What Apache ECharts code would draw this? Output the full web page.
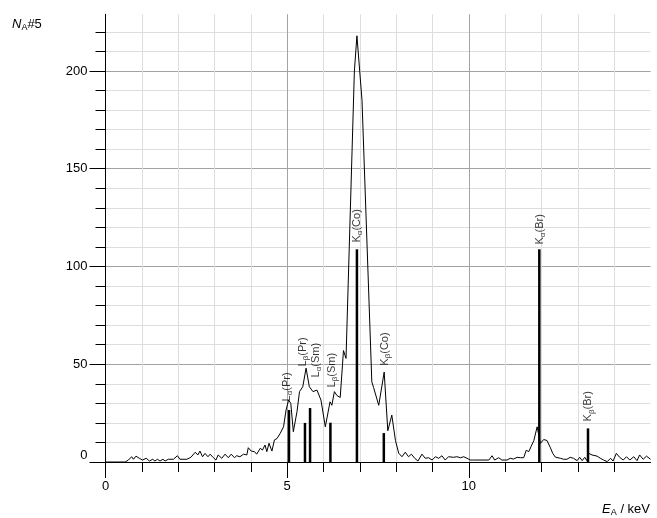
<!DOCTYPE html>
<html><head><meta charset="utf-8">
<script src="https://cdn.jsdelivr.net/npm/echarts@6/dist/echarts.min.js"></script>
<style>html,body{margin:0;padding:0;background:#fff}#c{width:657px;height:518px}</style>
</head><body><div id="c"></div>
<script>
// Spectrum readings (energy in keV, counts)
const energy = [0, 0.54, 0.63, 0.72, 0.77, 0.84, 0.93, 1.02, 1.12, 1.21, 1.3, 1.36, 1.43, 1.5, 1.58, 1.64, 1.73, 1.87, 1.98, 2.05, 2.24, 2.35, 2.47, 2.54, 2.6, 2.67, 2.74, 2.82, 2.88, 2.97, 3.04, 3.1, 3.2, 3.29, 3.38, 3.46, 3.55, 3.61, 3.7, 3.8, 3.89, 3.93, 4.01, 4.1, 4.16, 4.26, 4.32, 4.39, 4.44, 4.5, 4.58, 4.65, 4.72, 4.81, 4.9, 4.97, 5.04, 5.1, 5.17, 5.27, 5.34, 5.43, 5.52, 5.61, 5.71, 5.82, 5.93, 6.05, 6.09, 6.18, 6.23, 6.3, 6.37, 6.46, 6.55, 6.62, 6.85, 6.92, 7.06, 7.33, 7.38, 7.42, 7.52, 7.56, 7.67, 7.77, 7.88, 7.98, 8.07, 8.16, 8.25, 8.34, 8.42, 8.51, 8.6, 8.71, 8.8, 8.89, 8.99, 9.08, 9.17, 9.26, 9.35, 9.44, 9.49, 9.58, 9.67, 9.77, 9.86, 9.95, 10.04, 10.13, 10.55, 10.64, 10.71, 10.82, 10.91, 11.05, 11.14, 11.23, 11.33, 11.42, 11.51, 11.58, 11.65, 11.71, 11.79, 11.88, 11.97, 12.06, 12.15, 12.24, 12.31, 12.38, 12.52, 12.61, 12.7, 12.79, 12.88, 12.98, 13.05, 13.12, 13.19, 13.25, 13.3, 13.39, 13.53, 13.62, 13.71, 13.81, 13.9, 13.97, 14.06, 14.15, 14.25, 14.34, 14.43, 14.54, 14.63, 14.7, 14.8, 14.89, 15];
const counts = [0, 0, 1, 2.7, 1.4, 3, 1.9, 1, 1.9, 0.5, 1.4, 0.5, 1.4, 0.5, 1.4, 0.5, 1.4, 1.4, 3.2, 1.4, 1.4, 2.4, 5, 3.6, 5.6, 2.7, 4.4, 2.7, 4, 2.2, 1, 3.6, 1.9, 4, 2.2, 4, 2.2, 3.2, 2.7, 4, 3.6, 7.3, 5.6, 5.3, 4, 7, 6.1, 8.7, 5.3, 9.6, 5.6, 11.3, 12, 14.7, 18, 26.6, 31.7, 30, 15.5, 25.7, 36, 38.5, 48, 38.5, 36, 36.8, 31.7, 18, 17.7, 30.8, 29, 36, 34, 33, 57, 53, 200, 218, 185, 41, 38, 39, 29, 28, 46, 16, 24, 11, 4.5, 2.7, 5, 2.7, 4, 1.9, 0.5, 4, 1.9, 2.2, 1, 2.7, 1.9, 3.2, 1, 2.7, 3.6, 2.4, 2.7, 2.2, 2.7, 1.9, 1, 1, 1, 3.2, 1, 2.2, 1, 1, 1.9, 1.5, 2.4, 2.2, 2.2, 6, 5.3, 7.8, 11, 18, 9.5, 11.5, 11, 7.5, 4.4, 2.5, 1.9, 1.4, 1.4, 2.4, 1.9, 0.7, 2.4, 0.7, 2.4, 0.7, 4.4, 3.6, 3, 1.9, 1, 0.2, 1.9, 0.5, 4.4, 2.4, 1, 2.7, 1, 2.7, 0.7, 3.6, 1.4, 3, 1.4];

// Characteristic lines
const lineNames = ['L{s|α}(Pr)', 'L{s|β}(Pr)', 'L{s|α}(Sm)', 'L{s|β}(Sm)', 'K{s|α}(Co)', 'K{s|β}(Co)', 'K{s|α}(Br)', 'K{s|β}(Br)'];
const lineEnergy = [5.05, 5.49, 5.63, 6.19, 6.92, 7.66, 11.94, 13.28];
const lineHeight = [26.6, 20, 27.6, 20.1, 108.8, 14.8, 108.8, 17.2];
const labelEnergy = [5.0, 5.44, 5.80, 6.24, 6.92, 7.70, 11.96, 13.29];
const labelCount = [30.7, 48.6, 43, 37.9, 112, 49, 111, 20.5];

// Ticks
const xMinorTicks = [0,1,2,3,4,5,6,7,8,9,10,11,12,13,14];
const xMajorTicks = [0,5,10];
const yMinorTicks = [0,10,20,30,40,50,60,70,80,90,100,110,120,130,140,150,160,170,180,190,200,210,220];
const yMajorTicks = [0,50,100,150,200];

const FONT = 'Liberation Sans, Arial, Helvetica, sans-serif';
const gridRect = {left:105.5, right:6.5, top:14.3, bottom:56};
const minorColor = '#dddddd', majorColor = '#a3a3a3';

const chart = echarts.init(document.getElementById('c'), null, {renderer:'canvas'});
chart.setOption({
  animation:false,
  backgroundColor:'#fff',
  grid:[Object.assign({}, gridRect), Object.assign({}, gridRect)],
  xAxis:[
    {gridIndex:0, type:'value', min:0, max:15, interval:1,
     axisLine:{show:true, onZero:false, lineStyle:{color:'#000', width:1}},
     axisTick:{show:true, customValues:xMinorTicks, length:10, lineStyle:{color:'#000', width:1}},
     axisLabel:{show:false},
     splitLine:{show:true, lineStyle:{color:minorColor, width:1}}},
    {gridIndex:1, type:'value', min:0, max:15, interval:5,
     axisLine:{show:false},
     axisTick:{show:true, customValues:xMajorTicks, length:16, lineStyle:{color:'#000', width:1}},
     axisLabel:{show:true, customValues:xMajorTicks, margin:18, fontSize:13, color:'#000', fontFamily:FONT},
     splitLine:{show:true, lineStyle:{color:majorColor, width:1}}}
  ],
  yAxis:[
    {gridIndex:0, type:'value', min:0, max:229, interval:10,
     axisLine:{show:true, onZero:false, lineStyle:{color:'#000', width:1}},
     axisTick:{show:true, customValues:yMinorTicks, length:10, lineStyle:{color:'#000', width:1}},
     axisLabel:{show:false},
     splitLine:{show:true, lineStyle:{color:minorColor, width:1}}},
    {gridIndex:1, type:'value', min:0, max:229, interval:50,
     axisLine:{show:false},
     axisTick:{show:true, customValues:yMajorTicks, length:16, lineStyle:{color:'#000', width:1}},
     axisLabel:{show:true, customValues:yMajorTicks, margin:18, fontSize:13, color:'#000', fontFamily:FONT, verticalAlignMinLabel:'bottom'},
     splitLine:{show:true, lineStyle:{color:majorColor, width:1}}}
  ],
  series:[
    {type:'line', xAxisIndex:0, yAxisIndex:0, z:3, showSymbol:false, symbol:'none',
     lineStyle:{color:'#000', width:1}, data: energy.map((e,i)=>[e, counts[i]])},
    {type:'bar', xAxisIndex:0, yAxisIndex:0, z:4, barWidth:2.5, itemStyle:{color:'#000'},
     data: lineEnergy.map((e,i)=>[e, lineHeight[i]])},
    {type:'scatter', xAxisIndex:0, yAxisIndex:0, z:5, symbolSize:1, itemStyle:{color:'rgba(0,0,0,0)'},
     data: labelEnergy.map((e,i)=>({value:[e, labelCount[i]], name:lineNames[i]})),
     label:{show:true, position:'top', distance:0, rotate:90, align:'left', verticalAlign:'middle',
       formatter:p=>p.name, fontSize:11, color:'#000', fontFamily:FONT,
       rich:{s:{fontSize:8, color:'#000', fontFamily:FONT, padding:[6,0,0,0]}}}}
  ],
  graphic:[
    {type:'text', left:12, top:18, style:{text:'{i|N}{s|A}{n|#5}', fill:'#000',
      rich:{i:{fontSize:13, fontStyle:'italic', fontFamily:FONT, fill:'#000'},
            s:{fontSize:9, fontFamily:FONT, padding:[6,0,0,0], fill:'#000'},
            n:{fontSize:13, fontFamily:FONT, fill:'#000'}}}},
    {type:'text', right:7, top:503, style:{text:'{i|E}{s|A}{n| / keV}', fill:'#000',
      rich:{i:{fontSize:13, fontStyle:'italic', fontFamily:FONT, fill:'#000'},
            s:{fontSize:9, fontFamily:FONT, padding:[6,0,0,0], fill:'#000'},
            n:{fontSize:13, fontFamily:FONT, fill:'#000'}}}}
  ]
});
</script></body></html>
